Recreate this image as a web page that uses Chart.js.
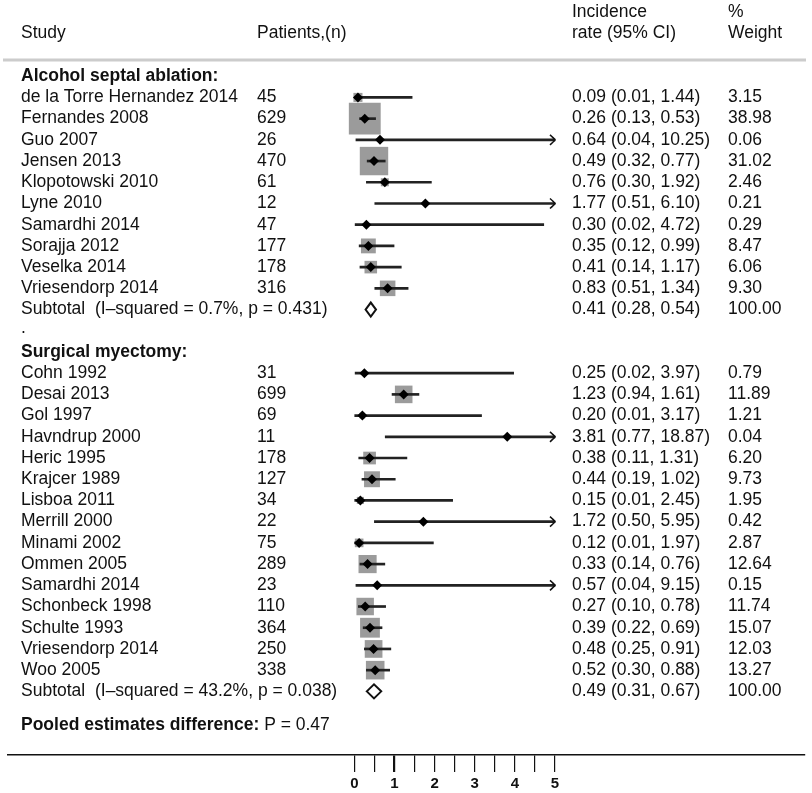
<!DOCTYPE html>
<html>
<head>
<meta charset="utf-8">
<script src="https://cdn.jsdelivr.net/npm/chart.js@4.4.0/dist/chart.umd.min.js"></script>
<style>
  html, body { margin: 0; padding: 0; background: #fff; }
  #wrap { width: 812px; height: 793px; position: relative; }
</style>
</head>
<body>
<div id="wrap"><canvas id="chart"></canvas></div>
<script>
// group names
const groups = ['Alcohol septal ablation:', 'Surgical myectomy:'];

// alcohol septal ablation
const asaStudies = ['de la Torre Hernandez 2014', 'Fernandes 2008', 'Guo 2007', 'Jensen 2013', 'Klopotowski 2010',
  'Lyne 2010', 'Samardhi 2014', 'Sorajja 2012', 'Veselka 2014', 'Vriesendorp 2014'];
const asaPatients = [45, 629, 26, 470, 61, 12, 47, 177, 178, 316];
const asaRate  = [0.09, 0.26, 0.64, 0.49, 0.76, 1.77, 0.30, 0.35, 0.41, 0.83];
const asaLower = [0.01, 0.13, 0.04, 0.32, 0.30, 0.51, 0.02, 0.12, 0.14, 0.51];
const asaUpper = [1.44, 0.53, 10.25, 0.77, 1.92, 6.10, 4.72, 0.99, 1.17, 1.34];
const asaWeight = [3.15, 38.98, 0.06, 31.02, 2.46, 0.21, 0.29, 8.47, 6.06, 9.30];
const asaSubtotal = [0.41, 0.28, 0.54];        // rate, lower, upper
const asaHetero = ['0.7%', '0.431'];           // I-squared, p

// surgical myectomy
const smStudies = ['Cohn 1992', 'Desai 2013', 'Gol 1997', 'Havndrup 2000', 'Heric 1995', 'Krajcer 1989',
  'Lisboa 2011', 'Merrill 2000', 'Minami 2002', 'Ommen 2005', 'Samardhi 2014', 'Schonbeck 1998',
  'Schulte 1993', 'Vriesendorp 2014', 'Woo 2005'];
const smPatients = [31, 699, 69, 11, 178, 127, 34, 22, 75, 289, 23, 110, 364, 250, 338];
const smRate  = [0.25, 1.23, 0.20, 3.81, 0.38, 0.44, 0.15, 1.72, 0.12, 0.33, 0.57, 0.27, 0.39, 0.48, 0.52];
const smLower = [0.02, 0.94, 0.01, 0.77, 0.11, 0.19, 0.01, 0.50, 0.01, 0.14, 0.04, 0.10, 0.22, 0.25, 0.30];
const smUpper = [3.97, 1.61, 3.17, 18.87, 1.31, 1.02, 2.45, 5.95, 1.97, 0.76, 9.15, 0.78, 0.69, 0.91, 0.88];
const smWeight = [0.79, 11.89, 1.21, 0.04, 6.20, 9.73, 1.95, 0.42, 2.87, 12.64, 0.15, 11.74, 15.07, 12.03, 13.27];
const smSubtotal = [0.49, 0.31, 0.67];
const smHetero = ['43.2%', '0.038'];

const pooledP = '0.47';
const xTicks = [0, 0.5, 1, 1.5, 2, 2.5, 3, 3.5, 4, 4.5, 5];

// ---- layout stuff ----
const FONT = '"Liberation Sans", Arial, Helvetica, sans-serif';
const FS = '17.5px ';
const COL = { name: 21, patients: 257, ci: 572, weight: 728 };
const xCut = xTicks[xTicks.length - 1];

// build the row list
const rows = [];
let r = 0;
function addGroup(label, names, n, rate, lo, hi, w, sub, het) {
  rows.push({ kind: 'group', label: label, row: r++ });
  names.forEach(function(name, i) {
    rows.push({ kind: 'study', name: name, n: n[i], rate: rate[i], lo: lo[i], hi: hi[i], w: w[i], row: r++ });
  });
  rows.push({ kind: 'subtotal', label: 'Subtotal  (I\u2013squared = ' + het[0] + ', p = ' + het[1] + ')',
    rate: sub[0], lo: sub[1], hi: sub[2], w: 100, row: r++ });
}
addGroup(groups[0], asaStudies, asaPatients, asaRate, asaLower, asaUpper, asaWeight, asaSubtotal, asaHetero);
rows.push({ kind: 'dot', row: r++ });
addGroup(groups[1], smStudies, smPatients, smRate, smLower, smUpper, smWeight, smSubtotal, smHetero);
rows.push({ kind: 'pooled', row: r + 0.6 });

const studies = rows.filter(function(x) { return x.kind === 'study'; });
const subtotals = rows.filter(function(x) { return x.kind === 'subtotal'; });

function ciText(o) {
  return o.rate.toFixed(2) + ' (' + o.lo.toFixed(2) + ', ' + o.hi.toFixed(2) + ')';
}

// text columns + header
const textPlugin = {
  id: 'forestText',
  afterDraw(chart) {
    const ctx = chart.ctx;
    const y = chart.scales.y;
    ctx.save();
    ctx.fillStyle = '#111';
    ctx.textBaseline = 'middle';
    ctx.textAlign = 'left';
    ctx.font = FS + FONT;
    ctx.fillText('Study', COL.name, 33);
    ctx.fillText('Patients,(n)', COL.patients, 33);
    ctx.fillText('Incidence', COL.ci, 12);
    ctx.fillText('rate (95% CI)', COL.ci, 33);
    ctx.fillText('%', COL.weight, 12);
    ctx.fillText('Weight', COL.weight, 33);

    ctx.strokeStyle = '#cccccc';
    ctx.lineWidth = 3;
    ctx.beginPath();
    ctx.moveTo(3, 60);
    ctx.lineTo(806, 60);
    ctx.stroke();

    rows.forEach(function(rw) {
      const py = y.getPixelForValue(rw.row);
      if (rw.kind === 'group') {
        ctx.font = 'bold ' + FS + FONT;
        ctx.fillText(rw.label, COL.name, py);
      } else if (rw.kind === 'study') {
        ctx.font = FS + FONT;
        ctx.fillText(rw.name, COL.name, py);
        ctx.fillText(String(rw.n), COL.patients, py);
        ctx.fillText(ciText(rw), COL.ci, py);
        ctx.fillText(rw.w.toFixed(2), COL.weight, py);
      } else if (rw.kind === 'subtotal') {
        ctx.font = FS + FONT;
        ctx.fillText(rw.label, COL.name, py);
        ctx.fillText(ciText(rw), COL.ci, py);
        ctx.fillText(rw.w.toFixed(2), COL.weight, py);
      } else if (rw.kind === 'dot') {
        ctx.font = FS + FONT;
        ctx.fillText('.', COL.name, py - 3);
      } else if (rw.kind === 'pooled') {
        ctx.font = 'bold ' + FS + FONT;
        const lbl = 'Pooled estimates difference:';
        ctx.fillText(lbl, COL.name, py);
        const wdt = ctx.measureText(lbl).width;
        ctx.font = FS + FONT;
        ctx.fillText(' P = ' + pooledP, COL.name + wdt, py);
      }
    });
    ctx.restore();
  }
};

// subtotal diamonds and arrow heads for clipped CIs
const shapesPlugin = {
  id: 'forestShapes',
  afterDatasetsDraw(chart) {
    const ctx = chart.ctx;
    const x = chart.scales.x, y = chart.scales.y;
    ctx.save();
    ctx.strokeStyle = '#111';
    ctx.lineWidth = 1.6;
    studies.forEach(function(s) {
      if (s.hi <= xCut) return;
      const px = x.getPixelForValue(xCut), py = y.getPixelForValue(s.row);
      ctx.beginPath();
      ctx.moveTo(px - 5, py - 5);
      ctx.quadraticCurveTo(px - 1, py - 1.5, px, py);
      ctx.quadraticCurveTo(px - 1, py + 1.5, px - 5, py + 5);
      ctx.stroke();
    });
    ctx.lineWidth = 2;
    ctx.fillStyle = '#fff';
    subtotals.forEach(function(s) {
      const py = y.getPixelForValue(s.row);
      const pl = x.getPixelForValue(s.lo), pm = x.getPixelForValue(s.rate), ph = x.getPixelForValue(s.hi);
      ctx.beginPath();
      ctx.moveTo(pl, py);
      ctx.lineTo(pm, py - 7);
      ctx.lineTo(ph, py);
      ctx.lineTo(pm, py + 7);
      ctx.closePath();
      ctx.fill();
      ctx.stroke();
    });
    ctx.restore();
  }
};

const ctx = document.getElementById('chart');
const myChart = new Chart(ctx, {
  type: 'scatter',
  plugins: [textPlugin, shapesPlugin],
  data: {
    datasets: [
      {
        // weight boxes
        type: 'scatter',
        order: 3,
        data: studies.map(function(s) { return { x: s.rate, y: s.row }; }),
        pointStyle: 'rect',
        pointRadius: studies.map(function(s) { return 5.1 * Math.sqrt(s.w) / Math.SQRT2; }),
        backgroundColor: '#9b9b9b',
        borderWidth: 0,
        pointBorderWidth: 0
      },
      {
        // confidence intervals
        type: 'bar',
        indexAxis: 'y',
        order: 2,
        data: studies.map(function(s) { return { x: [s.lo, Math.min(s.hi, xCut)], y: s.row }; }),
        backgroundColor: '#222',
        barThickness: 2,
        borderWidth: 0
      },
      {
        // point estimates
        type: 'scatter',
        order: 1,
        data: studies.map(function(s) { return { x: s.rate, y: s.row }; }),
        pointStyle: 'rectRot',
        pointRadius: 5,
        backgroundColor: '#000',
        borderWidth: 0,
        pointBorderWidth: 0
      }
    ]
  },
  options: {
    responsive: true,
    maintainAspectRatio: false,
    animation: false,
    layout: { autoPadding: false, padding: { top: 55, left: 8, right: 7, bottom: -3 } },
    plugins: {
      legend: { display: false },
      tooltip: { enabled: false }
    },
    scales: {
      x: {
        type: 'linear',
        position: 'bottom',
        offset: false,
        min: -8.63,
        max: 11.23,
        afterBuildTicks: function(scale) {
          scale.ticks = xTicks.map(function(v) { return { value: v }; });
        },
        ticks: {
          autoSkip: false,
          maxRotation: 0,
          padding: 3,
          color: '#111',
          font: { family: FONT, size: 15, weight: 'bold' },
          callback: function(v) { return Number.isInteger(v) ? String(v) : ''; }
        },
        grid: {
          offset: false,
          drawOnChartArea: false,
          drawTicks: true,
          tickLength: 17,
          color: '#111',
          lineWidth: function(c) { return c.tick && c.tick.value === 1 ? 2.2 : 1.2; }
        },
        border: { display: true, color: '#111', width: 1.5 }
      },
      y: {
        type: 'linear',
        reverse: true,
        offset: false,
        grid: { offset: false },
        min: -1,
        max: 32,
        display: false
      }
    }
  }
});
</script>
</body>
</html>
